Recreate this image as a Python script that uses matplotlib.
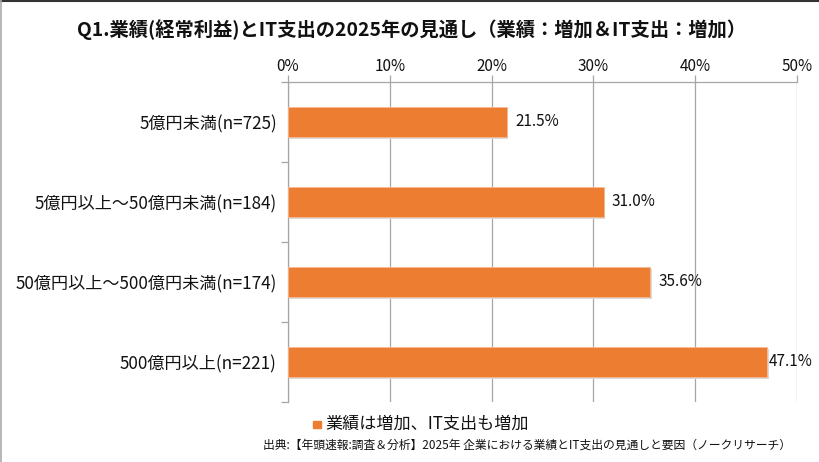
import matplotlib
matplotlib.use("Agg")
import matplotlib.pyplot as plt
from matplotlib.lines import Line2D
from matplotlib.patches import Rectangle

plt.rcParams['font.family'] = ['Noto Sans CJK JP', 'DejaVu Sans']

title = "Q1.業績(経常利益)とIT支出の2025年の見通し（業績：増加＆IT支出：増加）"
categories = ["5億円未満(n=725)", "5億円以上～50億円未満(n=184)",
              "50億円以上～500億円未満(n=174)", "500億円以上(n=221)"]
values = [21.5, 31.0, 35.6, 47.1]
xticks = [0, 10, 20, 30, 40, 50]
legend_label = "業績は増加、IT支出も増加"
source = "出典:【年頭速報:調査＆分析】2025年 企業における業績とIT支出の見通しと要因（ノークリサーチ）"

W, H = 819, 462
fig = plt.figure(figsize=(W / 100, H / 100), dpi=100)
fig.patch.set_facecolor("white")

ax = fig.add_axes([288 / W, 1 - 402 / H, (797 - 288) / W, (402 - 82) / H])
bar_color = "#ED7D31"
grid_color = "#A6A6A6"

n = len(categories)
ypos = list(range(n))
bar_h = 0.375
# subtle shadow
ax.barh([y + 0.025 for y in ypos], values, height=bar_h, left=0.15,
        color="#D9D9D9", linewidth=0, zorder=2)
ax.barh(ypos, values, height=bar_h, color=bar_color, edgecolor="#F4B98F",
        linewidth=0.6, zorder=3)
ax.set_ylim(n - 0.5, -0.5)
ax.set_xlim(0, 50)

for y, v in zip(ypos, values):
    off = 0.8 if v < 45 else 0.1
    ax.text(v + off, y, f"{v:.1f}%", va="center", ha="left", fontsize=11,
            color="#111111", zorder=4)

ax.xaxis.tick_top()
ax.set_xticks(xticks)
ax.set_xticklabels([f"{t}%" for t in xticks], fontsize=11, color="#111111")
ax.tick_params(axis="x", length=5, color=grid_color, width=0.9, pad=0)
ax.xaxis.grid(True, color=grid_color, linewidth=0.9, zorder=0)

ax.set_yticks(ypos)
ax.set_yticklabels(categories, fontsize=12.3, color="#111111")
ax.tick_params(axis="y", which="major", length=0, pad=8)
ax.set_yticks([-0.5] + [i + 0.5 for i in range(n)], minor=True)
ax.tick_params(axis="y", which="minor", length=5, color=grid_color, width=0.9)

for s in ["right", "bottom"]:
    ax.spines[s].set_visible(False)
for s in ["left", "top"]:
    ax.spines[s].set_color(grid_color)
    ax.spines[s].set_linewidth(0.9)

fig.text(411 / W, 1 - 30 / H, title, ha="center", va="center",
         fontsize=13.9, fontweight="bold", color="#111111")

# legend
fig.patches.append(Rectangle((313 / W, 1 - 428 / H), 8 / W, 7 / H,
                             transform=fig.transFigure, color=bar_color))
fig.text(325 / W, 1 - 424 / H, legend_label, ha="left", va="center",
         fontsize=12.3, color="#111111")
fig.text(791 / W, 1 - 445 / H, source, ha="right", va="center",
         fontsize=8.5, color="#111111")

# frame lines
fig.add_artist(Line2D([0, 1], [1 - 1 / H, 1 - 1 / H], transform=fig.transFigure,
                      color="#333333", linewidth=1.5))
fig.add_artist(Line2D([0.5 / W, 0.5 / W], [0, 1], transform=fig.transFigure,
                      color="#AAAAAA", linewidth=1.2))

fig.savefig("out.png", dpi=100, facecolor="white")
